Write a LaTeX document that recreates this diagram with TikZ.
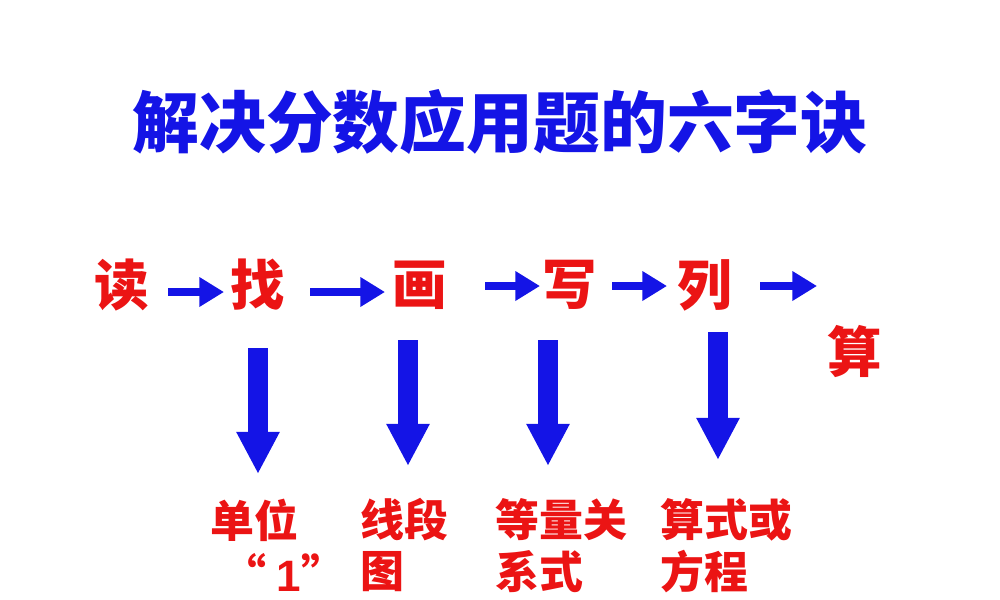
\documentclass[tikz,border=0pt]{standalone}
\usepackage{fontspec}
\newfontfamily\cjk{Noto Sans CJK SC}
\newfontfamily\latinsans{Liberation Sans}
\usetikzlibrary{arrows.meta}
\definecolor{titleblue}{RGB}{20,20,230}
\definecolor{wordred}{RGB}{235,20,20}
\tikzset{
  stepword/.style={text=wordred, font=\cjk\bfseries\fontsize{15.5}{16}\selectfont, inner sep=0pt},
  notetext/.style={text=wordred, font=\cjk\bfseries\fontsize{12.5}{15}\selectfont, inner sep=0pt, anchor=west},
  flowarrow/.style={titleblue, line width=2pt, -{Triangle[width=8pt,length=7pt]}},
  downarrow/.style={titleblue, line width=5.5pt, -{Triangle[width=11.5pt,length=12pt]}}
}
\begin{document}
\begin{tikzpicture}[x=0.01cm, y=-0.01cm]
    \useasboundingbox (0,0) rectangle (1000,600);
    % title
    \node[text=titleblue, font=\cjk\bfseries\fontsize{19}{20}\selectfont] (title) at (500,122) {解决分数应用题的六字诀};

    % six steps
    \node[stepword] (du) at (122,285) {读};
    \node[stepword] (zhao) at (258,285) {找};
    \node[stepword] (hua) at (420,285) {画};
    \node[stepword] (xie) at (570,285) {写};
    \node[stepword] (lie) at (705,285) {列};
    \node[stepword] (suan) at (855,352) {算};

    % horizontal arrows
    \draw[flowarrow] (168,292) -- (224,292);
    \draw[flowarrow] (310,292) -- (385,292);
    \draw[flowarrow] (485,286) -- (540,286);
    \draw[flowarrow] (612,286) -- (667,286);
    \draw[flowarrow] (760,286) -- (817,286);

    % vertical arrows
    \draw[downarrow] (258,348) -- (258,474);
    \draw[downarrow] (408,340) -- (408,466);
    \draw[downarrow] (548,340) -- (548,466);
    \draw[downarrow] (718,332) -- (718,460);

    % notes
    \node[notetext] (n1) at (210,520) {单位};
    \node[notetext] (n1b) at (222,572) {“ {\latinsans 1}”};
    \node[notetext] (n2) at (360,520) {线段};
    \node[notetext] (n2b) at (360,572) {图};
    \node[notetext] (n3) at (495,520) {等量关};
    \node[notetext] (n3b) at (495,572) {系式};
    \node[notetext] (n4) at (660,520) {算式或};
    \node[notetext] (n4b) at (660,572) {方程};
\end{tikzpicture}
\end{document}
